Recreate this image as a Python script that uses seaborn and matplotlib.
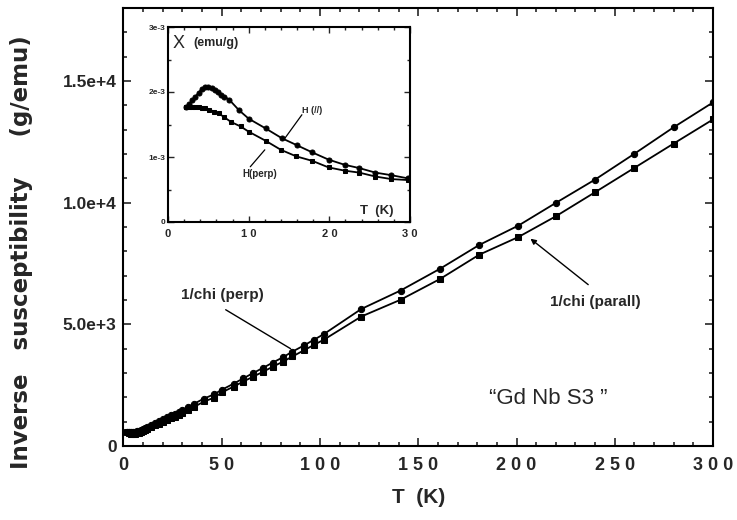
import matplotlib
matplotlib.use("Agg")
import matplotlib.pyplot as plt
import seaborn as sns
from matplotlib.ticker import MultipleLocator

# ---------------- data ----------------
T_main = [2, 3, 4, 5, 6, 7, 8, 9, 10, 11, 12, 14, 16, 18, 20, 22, 24, 26, 28, 30, 33, 36,
          41, 46, 50, 56, 61, 66, 71, 76, 81, 86, 92, 97, 102, 121, 141, 161, 181, 201,
          220, 240, 260, 280, 300]
inv_perp = [575, 565, 565, 570, 585, 605, 630, 665, 700, 740, 780, 860, 940, 1020, 1100,
            1180, 1260, 1330, 1410, 1490, 1610, 1740, 1950, 2120, 2310, 2560, 2780, 3000,
            3210, 3430, 3640, 3880, 4140, 4370, 4600, 5630, 6390, 7280, 8260, 9060, 9990,
            10950, 12010, 13100, 14120]
inv_par = [560, 530, 510, 500, 505, 520, 545, 575, 615, 655, 700, 770, 845, 920, 995,
           1070, 1140, 1210, 1280, 1360, 1480, 1610, 1830, 1980, 2200, 2440, 2650, 2850,
           3050, 3260, 3460, 3680, 3940, 4160, 4370, 5320, 6010, 6860, 7860, 8590, 9440,
           10430, 11430, 12430, 13420]

# inset: susceptibility (emu/g)
Ti_par = [2.2, 2.6, 3.0, 3.4, 3.8, 4.2, 4.6, 5.0, 5.4, 5.8, 6.2, 6.6, 7.0, 7.6, 8.8, 10.0,
          12.1, 14.1, 16.0, 17.9, 19.9, 21.9, 23.7, 25.7, 27.7, 29.8]
chi_par = [1.77e-3, 1.81e-3, 1.87e-3, 1.93e-3, 1.99e-3, 2.05e-3, 2.08e-3, 2.08e-3, 2.06e-3,
           2.03e-3, 2.00e-3, 1.96e-3, 1.93e-3, 1.88e-3, 1.72e-3, 1.59e-3, 1.44e-3, 1.29e-3,
           1.18e-3, 1.07e-3, 0.96e-3, 0.88e-3, 0.83e-3, 0.76e-3, 0.72e-3, 0.67e-3]

Ti_perp = [2.2, 2.6, 3.0, 3.4, 3.8, 4.2, 4.6, 5.1, 5.7, 6.3, 7.0, 7.8, 9.0, 10.0, 12.1, 14.0,
           15.9, 17.9, 19.9, 21.9, 23.7, 25.7, 27.7, 29.8]
chi_perp = [1.77e-3, 1.77e-3, 1.77e-3, 1.77e-3, 1.77e-3, 1.76e-3, 1.75e-3, 1.73e-3, 1.70e-3,
            1.67e-3, 1.61e-3, 1.54e-3, 1.47e-3, 1.39e-3, 1.25e-3, 1.11e-3, 1.01e-3, 0.94e-3,
            0.84e-3, 0.79e-3, 0.76e-3, 0.70e-3, 0.66e-3, 0.645e-3]

main_xticks = [0, 50, 100, 150, 200, 250, 300]
main_xtick_labels = ["0", "5 0", "1 0 0", "1 5 0", "2 0 0", "2 5 0", "3 0 0"]
main_yticks = [0, 5000, 10000, 15000]
main_ytick_labels = ["0", "5.0e+3", "1.0e+4", "1.5e+4"]
inset_xticks = [0, 10, 20, 30]
inset_xtick_labels = ["0", "1 0", "2 0", "3 0"]
inset_yticks = [0, 1e-3, 2e-3, 3e-3]
inset_ytick_labels = ["0", "1e-3", "2e-3", "3e-3"]

# ---------------- style ----------------
sns.set_style("ticks")
plt.rcParams['font.family'] = ['Liberation Sans', 'DejaVu Sans']

fig = plt.figure(figsize=(7.37, 5.2), dpi=100)
ax = fig.add_axes([123.5 / 737, 74 / 520, 589.5 / 737, 438 / 520])

sns.lineplot(x=T_main, y=inv_perp, ax=ax, color='black', linewidth=1.3, marker='o',
             markersize=4.5, markeredgecolor='black', estimator=None)
sns.lineplot(x=T_main, y=inv_par, ax=ax, color='black', linewidth=1.3, marker='s',
             markersize=4.5, markeredgecolor='black', estimator=None)

ax.set_xlim(0, 300)
ax.set_ylim(0, 18000)
ax.set_xticks(main_xticks)
ax.set_xticklabels(main_xtick_labels)
ax.set_yticks(main_yticks)
ax.set_yticklabels(main_ytick_labels)
ax.xaxis.set_minor_locator(MultipleLocator(10))
ax.yaxis.set_minor_locator(MultipleLocator(1000))
ax.tick_params(which='both', direction='in', top=True, right=True, width=1.2)
ax.tick_params(which='major', length=6)
ax.tick_params(axis='x', labelsize=13, pad=8)
ax.tick_params(axis='y', labelsize=12.5, pad=5)
ax.tick_params(which='minor', length=3)
for lab in ax.get_xticklabels() + ax.get_yticklabels():
    lab.set_fontweight('bold')
for s in ax.spines.values():
    s.set_linewidth(1.5)
    s.set_color('black')

ax.set_xlabel("T  (K)", fontsize=15, fontweight='bold', labelpad=10)
ax.set_ylabel("Inverse   susceptibility     (g/emu)", fontsize=16.5, fontweight='bold',
              family=['DejaVu Sans'])
ax.yaxis.set_label_coords((33 - 123.5) / 589.5, (446 - 252) / 438)

ax.text(50.5, 6200, "1/chi (perp)", fontsize=11, fontweight='bold', ha='center', va='center')
ax.plot([52, 85], [5600, 4000], color='black', lw=1)
ax.text(240, 5900, "1/chi (parall)", fontsize=11, fontweight='bold', ha='center', va='center')
ax.annotate("", xy=(206, 8590), xytext=(237.6, 6560),
            arrowprops=dict(arrowstyle='-|>', color='black', lw=1, mutation_scale=8))
ax.text(216, 1950, "\u201cGd Nb S3 \u201d", fontsize=16, ha='center', va='center')

# ---------------- inset ----------------
ins = fig.add_axes([168 / 737, (520 - 222) / 520, 242 / 737, 195 / 520])
sns.lineplot(x=Ti_par, y=chi_par, ax=ins, color='black', linewidth=1.3, marker='o',
             markersize=3.6, markeredgecolor='black', estimator=None)
sns.lineplot(x=Ti_perp, y=chi_perp, ax=ins, color='black', linewidth=1.3, marker='s',
             markersize=3.2, markeredgecolor='black', estimator=None)
ins.set_xlim(0, 30)
ins.set_ylim(0, 3e-3)
ins.set_xticks(inset_xticks)
ins.set_xticklabels(inset_xtick_labels)
ins.set_yticks(inset_yticks)
ins.set_yticklabels(inset_ytick_labels)
ins.xaxis.set_minor_locator(MultipleLocator(2))
ins.yaxis.set_minor_locator(MultipleLocator(0.5e-3))
ins.tick_params(which='both', direction='in', top=True, right=True, width=1)
ins.tick_params(which='major', length=4)
ins.tick_params(axis='x', labelsize=8, pad=5)
ins.tick_params(axis='y', labelsize=6, pad=2)
ins.tick_params(which='minor', length=2)
for lab in ins.get_xticklabels() + ins.get_yticklabels():
    lab.set_fontweight('bold')
for s in ins.spines.values():
    s.set_linewidth(1.5)
    s.set_color('black')

ins.text(0.6, 2.74e-3, "X", fontsize=13, ha='left', va='center')
ins.text(3.1, 2.76e-3, "(emu/g)", fontsize=9, fontweight='bold', ha='left', va='center')
ins.text(25.9, 0.17e-3, "T  (K)", fontsize=9.5, fontweight='bold', ha='center', va='center')
ins.text(17.9, 1.72e-3, "H (//)", fontsize=6.5, fontweight='bold', ha='center', va='center')
ins.plot([16.6, 14.5], [1.65e-3, 1.29e-3], color='black', lw=0.9)
ins.text(11.4, 0.74e-3, "H(perp)", fontsize=7, fontweight='bold', ha='center', va='center')
ins.plot([10.2, 12.0], [0.85e-3, 1.11e-3], color='black', lw=0.9)

fig.savefig("out.png", dpi=100)
